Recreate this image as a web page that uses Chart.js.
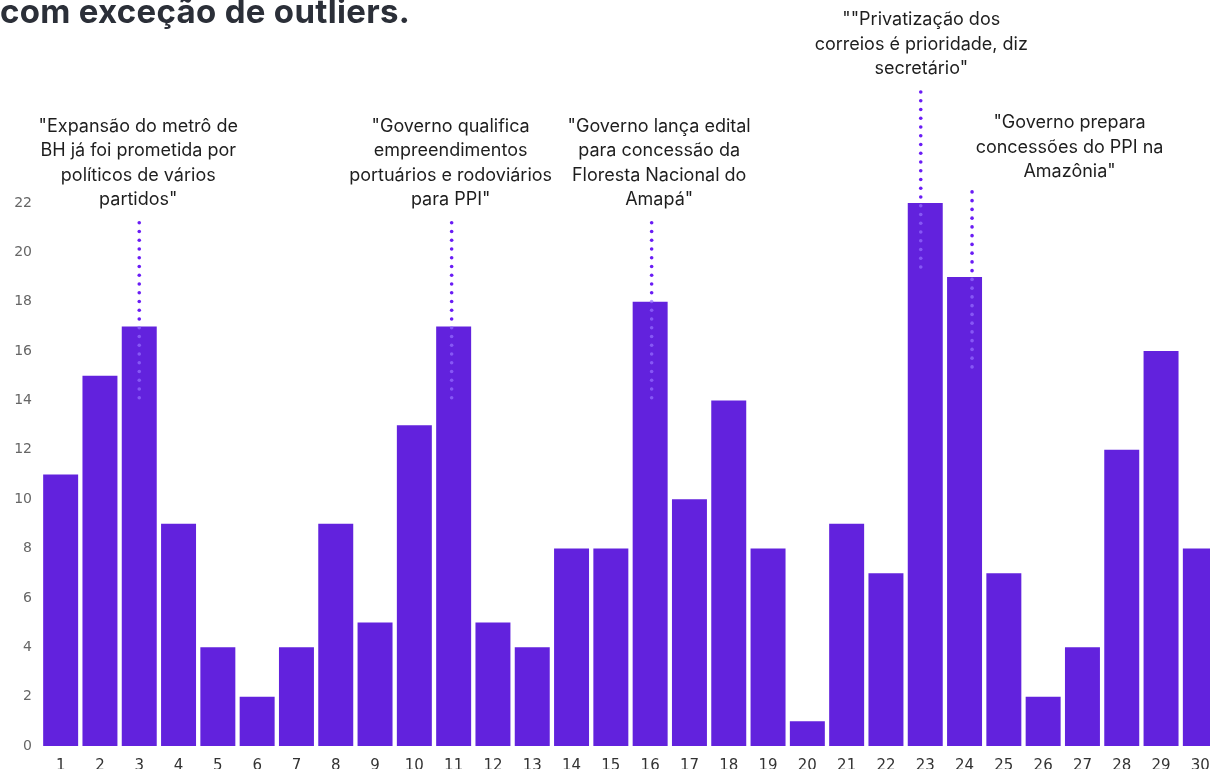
<!DOCTYPE html>
<html>
<head>
<meta charset="utf-8">
<script src="https://cdn.jsdelivr.net/npm/chart.js@4"></script>
<style>
  html, body { margin: 0; padding: 0; background: #fff; overflow: hidden; }
  #wrap { position: relative; width: 1222px; height: 769px; }
  #titulo {
    position: absolute; left: 0; top: -5px; margin: 0;
    font: 700 33px/33px Inter, "Noto Sans", sans-serif;
    color: #2b2f38; white-space: nowrap; letter-spacing: 0.3px;
  }
  canvas { position: absolute; left: 0; top: 0; }
</style>
</head>
<body>
<div id="wrap">
  <canvas id="grafico" width="1222" height="769"></canvas>
  <div id="titulo">com exceção de outliers.</div>
</div>
<script>
// dias do mês
const dias = ['1','2','3','4','5','6','7','8','9','10','11','12','13','14','15',
              '16','17','18','19','20','21','22','23','24','25','26','27','28','29','30'];
// quantidade de notícias por dia
const noticias = [11, 15, 17, 9, 4, 2, 4, 9, 5, 13, 17, 5, 4, 8, 8,
                  18, 10, 14, 8, 1, 9, 7, 22, 19, 7, 2, 4, 12, 16, 8];
// marcas do eixo y
const marcasY = [0, 2, 4, 6, 8, 10, 12, 14, 16, 18, 20, 22];

// manchetes destacadas (dia -> texto)
const manchetesDia = ['3', '11', '16', '23', '24'];
const manchetesTexto = [
  ['"Expansão do metrô de', 'BH já foi prometida por', 'políticos de vários', 'partidos"'],
  ['"Governo qualifica', 'empreendimentos', 'portuários e rodoviários', 'para PPI"'],
  ['"Governo lança edital', 'para concessão da', 'Floresta Nacional do', 'Amapá"'],
  ['""Privatização dos', 'correios é prioridade, diz', 'secretário"'],
  ['"Governo prepara', 'concessões do PPI na', 'Amazônia"']
];

// posicionamento das anotações (layout, não dados)
const layoutNotas = [
  { topo: 21.2, base: 14.1, dxLinha: 0, dxTexto: -1, gap: 23 },
  { topo: 21.2, base: 14.1, dxLinha: -2, dxTexto: -3, gap: 23 },
  { topo: 21.2, base: 14.1, dxLinha: 1.5, dxTexto: 9, gap: 23 },
  { topo: 26.5, base: 19.35, dxLinha: -4.5, dxTexto: -4, gap: 23 },
  { topo: 22.45, base: 15.3, dxLinha: 7.5, dxTexto: 105, gap: 20 }
];

const anotacoes = {
  id: 'anotacoes',
  afterDatasetsDraw(chart) {
    const ctx = chart.ctx;
    const x = chart.scales.x, y = chart.scales.y;
    ctx.save();
    manchetesDia.forEach((dia, i) => {
      const idx = dias.indexOf(dia);
      const L = layoutNotas[i];
      const cx = x.getPixelForValue(idx);
      const lx = cx + L.dxLinha;
      const yTop = y.getPixelForValue(L.topo);
      const yBot = y.getPixelForValue(L.base);
      const yBar = y.getPixelForValue(noticias[idx]);
      for (let py = yTop; py <= yBot + 0.5; py += 8.75) {
        ctx.beginPath();
        ctx.arc(lx, py, 1.8, 0, Math.PI * 2);
        ctx.fillStyle = py < yBar - 1 ? '#6a1cf5' : 'rgba(150,110,255,0.7)';
        ctx.fill();
      }
      const linhas = manchetesTexto[i];
      ctx.font = '18px Inter, "Noto Sans", sans-serif';
      ctx.fillStyle = '#1e1e1e';
      ctx.textAlign = 'center';
      ctx.textBaseline = 'middle';
      const ultima = yTop - L.gap;
      linhas.forEach((t, k) => {
        const py = ultima - (linhas.length - 1 - k) * 24.5;
        ctx.fillText(t, cx + L.dxTexto, py);
      });
    });
    ctx.restore();
  }
};

new Chart(document.getElementById('grafico'), {
  type: 'bar',
  data: {
    labels: dias,
    datasets: [{
      data: noticias,
      backgroundColor: '#6222dd',
      barPercentage: 0.89,
      categoryPercentage: 1.0
    }]
  },
  options: {
    responsive: false,
    animation: false,
    layout: { padding: { top: 203, right: 2, left: 0, bottom: 0 } },
    plugins: {
      legend: { display: false },
      tooltip: { enabled: false }
    },
    scales: {
      x: {
        grid: { display: false },
        border: { display: false },
        ticks: {
          color: '#333',
          font: { family: '"DejaVu Sans", sans-serif', size: 15 },
          padding: 3,
          maxRotation: 0,
          autoSkip: false
        },
        afterFit(scale) { scale.height = 23; }
      },
      y: {
        min: 0,
        max: 22,
        grid: { display: false },
        border: { display: false },
        afterBuildTicks(scale) { scale.ticks = marcasY.map(v => ({ value: v })); },
        ticks: {
          color: '#666',
          font: { family: '"DejaVu Sans", sans-serif', size: 14 },
          padding: 1
        },
        afterFit(scale) { scale.width = 41; }
      }
    }
  },
  plugins: [anotacoes]
});
</script>
</body>
</html>
